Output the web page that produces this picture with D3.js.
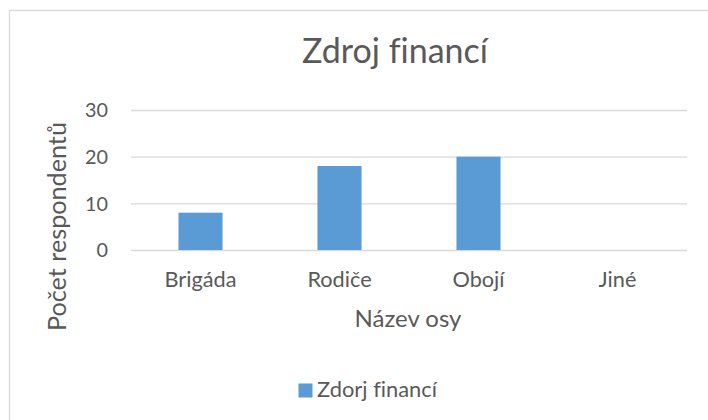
<!DOCTYPE html>
<html>
<head>
<meta charset="utf-8">
<script src="https://cdn.jsdelivr.net/npm/d3@7"></script>
<style>
  html, body { margin: 0; padding: 0; background: #fff; }
  svg text { font-family: Lato, "Open Sans", sans-serif; fill: #595959; font-variant-ligatures: none; }
</style>
</head>
<body>
<svg id="chart" width="708" height="420"></svg>
<script>
const categories = ["Brigáda", "Rodiče", "Obojí", "Jiné"];
const values = [8, 18, 20, 0];
const yTicks = [0, 10, 20, 30];
const chartTitle = "Zdroj financí";
const seriesName = "Zdorj financí";
const xAxisTitle = "Název osy";
const yAxisTitle = "Počet respondentů";

const svg = d3.select("#chart");
const plot = { left: 131, right: 687, top: 110, bottom: 250 };
const barColor = "#5B9BD5";
const gridColor = "#d9d9d9";

// fit a text element to a target width by adjusting its font size
function fit(sel, target) {
  const base = 20;
  sel.style("font-size", base + "px");
  const w = sel.node().getComputedTextLength();
  sel.style("font-size", (base * target / w) + "px");
  return sel;
}

// outer frame (only left/top visible in reference)
svg.append("rect")
  .attr("x", 9.5).attr("y", 10.5)
  .attr("width", 720).attr("height", 430)
  .attr("fill", "none").attr("stroke", gridColor).attr("stroke-width", 1.3);

const x = d3.scaleBand()
  .domain(categories)
  .range([plot.left, plot.right])
  .paddingInner(0.683)
  .paddingOuter(0.3415);

const y = d3.scaleLinear()
  .domain([0, 30])
  .range([plot.bottom, plot.top]);

// gridlines + y tick labels
const yAxis = svg.append("g")
  .attr("transform", `translate(${plot.left},0)`)
  .call(d3.axisLeft(y).tickValues(yTicks).tickSize(-(plot.right - plot.left)).tickPadding(23).tickFormat(d3.format("d")));
yAxis.select(".domain").remove();
yAxis.selectAll(".tick line").attr("stroke", gridColor).attr("stroke-width", 1.3);
yAxis.selectAll(".tick text")
  .attr("fill", "#595959")
  .style("font-family", "Lato, sans-serif")
  .attr("dy", "0.35em");
yAxis.selectAll(".tick text").each(function(d) {
  if (d === 30) fit(d3.select(this), 23);
});
const tickFs = yAxis.selectAll(".tick text").filter(d => d === 30).style("font-size");
yAxis.selectAll(".tick text").style("font-size", tickFs);

// bars
svg.append("g").selectAll("rect")
  .data(categories.map((c, i) => ({ c, v: values[i] })))
  .join("rect")
  .attr("x", d => x(d.c))
  .attr("y", d => y(d.v))
  .attr("width", x.bandwidth())
  .attr("height", d => y(0) - y(d.v))
  .attr("fill", barColor);

// category labels
const catLabels = svg.append("g").selectAll("text")
  .data(categories)
  .join("text")
  .attr("x", d => x(d) + x.bandwidth() / 2)
  .attr("y", 287)
  .attr("text-anchor", "middle")
  .text(d => d);
fit(catLabels.filter(d => d === "Brigáda"), 72);
const catFs = catLabels.filter(d => d === "Brigáda").style("font-size");
catLabels.style("font-size", catFs);

// chart title
fit(svg.append("text")
  .attr("x", 395).attr("y", 63)
  .attr("text-anchor", "middle")
  .text(chartTitle), 186);

// x axis title
fit(svg.append("text")
  .attr("x", 408).attr("y", 327)
  .attr("text-anchor", "middle")
  .text(xAxisTitle), 107);

// y axis title
fit(svg.append("text")
  .attr("transform", "translate(66,226.5) rotate(-90)")
  .attr("text-anchor", "middle")
  .text(yAxisTitle), 209);

// legend
svg.append("rect")
  .attr("x", 298.5).attr("y", 383.5)
  .attr("width", 14).attr("height", 14)
  .attr("fill", barColor);
fit(svg.append("text")
  .attr("x", 317).attr("y", 397)
  .text(seriesName), 120);
</script>
</body>
</html>
